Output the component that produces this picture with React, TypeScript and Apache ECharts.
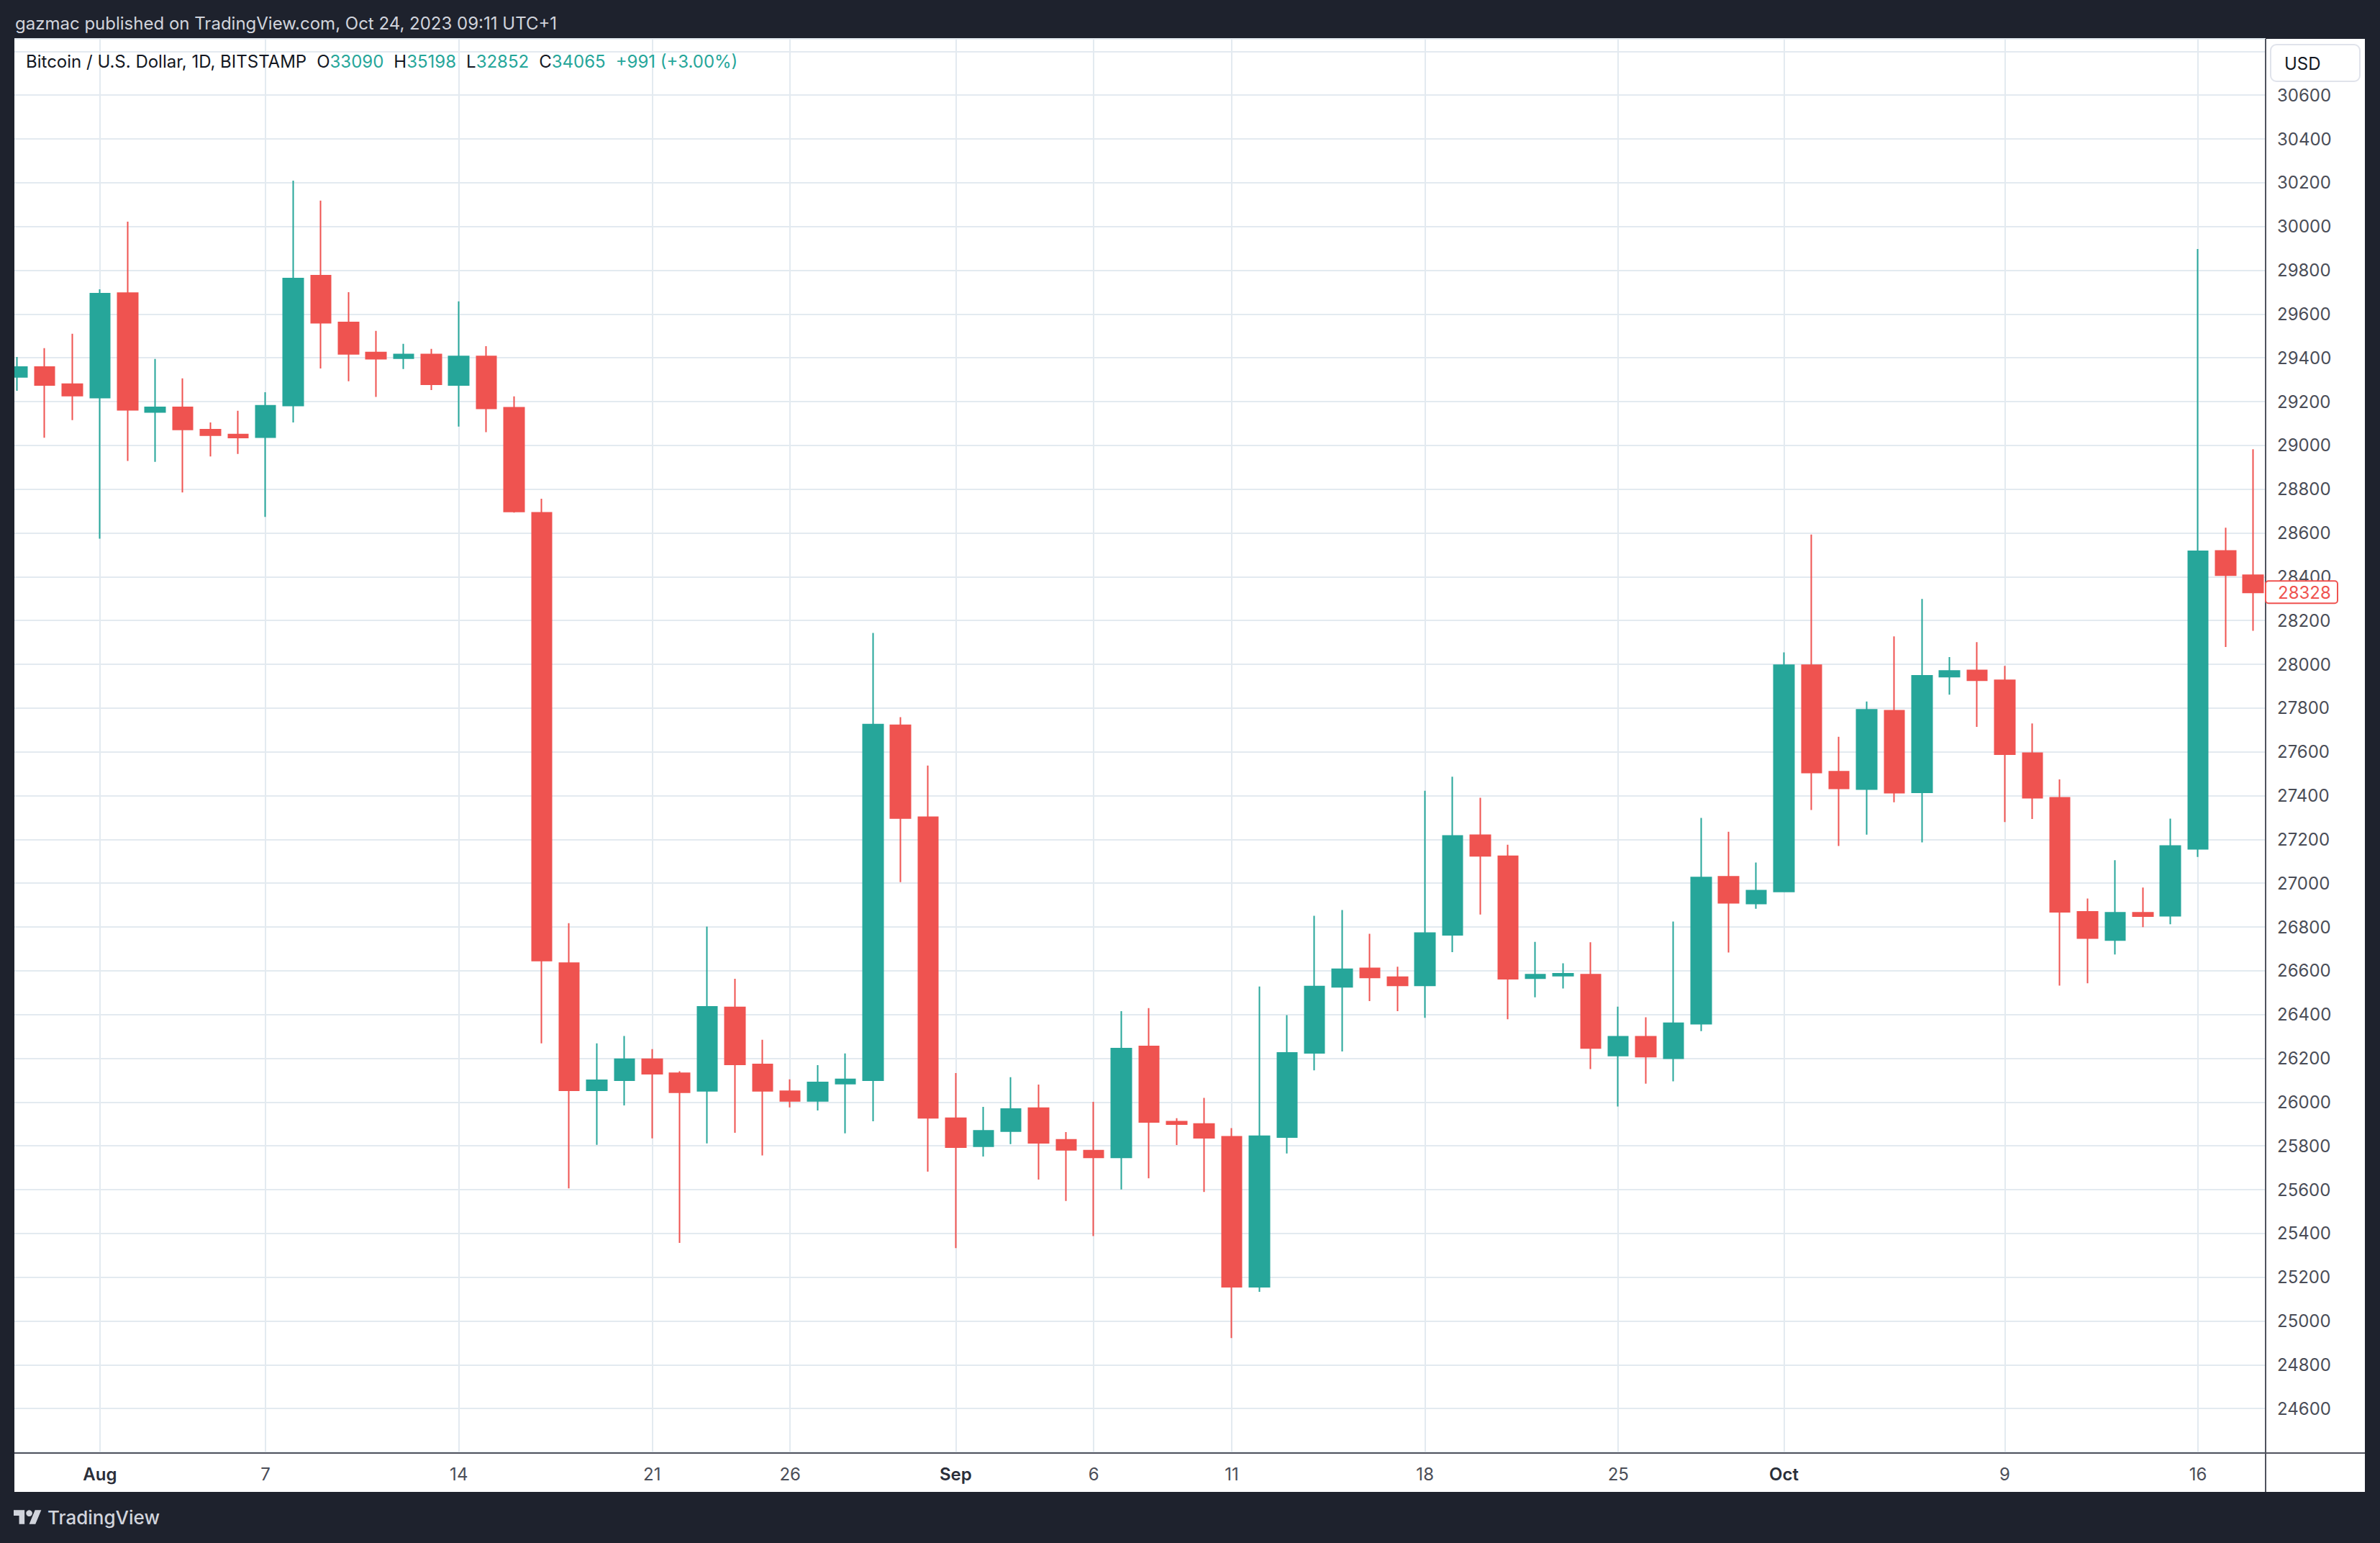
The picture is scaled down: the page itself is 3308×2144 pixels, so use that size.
import React, { useEffect, useRef } from 'react';
import * as echarts from 'echarts';

// ---------- data ----------
const dates = [
  'Jul 29', 'Jul 30', 'Jul 31',
  'Aug 1', 'Aug 2', 'Aug 3', 'Aug 4', 'Aug 5', 'Aug 6', 'Aug 7', 'Aug 8', 'Aug 9', 'Aug 10',
  'Aug 11', 'Aug 12', 'Aug 13', 'Aug 14', 'Aug 15', 'Aug 16', 'Aug 17', 'Aug 18', 'Aug 19', 'Aug 20',
  'Aug 21', 'Aug 22', 'Aug 23', 'Aug 24', 'Aug 25', 'Aug 26', 'Aug 27', 'Aug 28', 'Aug 29', 'Aug 30', 'Aug 31',
  'Sep 1', 'Sep 2', 'Sep 3', 'Sep 4', 'Sep 5', 'Sep 6', 'Sep 7', 'Sep 8', 'Sep 9', 'Sep 10',
  'Sep 11', 'Sep 12', 'Sep 13', 'Sep 14', 'Sep 15', 'Sep 16', 'Sep 17', 'Sep 18', 'Sep 19', 'Sep 20',
  'Sep 21', 'Sep 22', 'Sep 23', 'Sep 24', 'Sep 25', 'Sep 26', 'Sep 27', 'Sep 28', 'Sep 29', 'Sep 30',
  'Oct 1', 'Oct 2', 'Oct 3', 'Oct 4', 'Oct 5', 'Oct 6', 'Oct 7', 'Oct 8', 'Oct 9', 'Oct 10',
  'Oct 11', 'Oct 12', 'Oct 13', 'Oct 14', 'Oct 15', 'Oct 16', 'Oct 17', 'Oct 18',
];

const opens = [
  29313, 29358, 29280, 29218, 29696, 29152, 29174, 29072, 29050, 29037,
  29182, 29775, 29562, 29424, 29398, 29415, 29276, 29406, 29172, 28692,
  26635, 26054, 26100, 26196, 26132, 26051, 26433, 26172, 26050, 26005,
  26084, 26100, 27721, 27301, 25926, 25798, 25867, 25972, 25828, 25778,
  25747, 26254, 25911, 25900, 25842, 25156, 25840, 26225, 26526, 26611,
  26571, 26533, 26764, 27219, 27123, 26566, 26577, 26582, 26212, 26299,
  26200, 26358, 27029, 26907, 26962, 27996, 27509, 27430, 27788, 27415,
  27943, 27972, 27927, 27594, 27390, 26869, 26740, 26865, 26851, 27157,
  28518, 28407,
];

const closes = [
  29358, 29276, 29227, 29693, 29162, 29174, 29073, 29046, 29036, 29181,
  29762, 29560, 29418, 29396, 29415, 29279, 29406, 29169, 28698, 26646,
  26054, 26100, 26196, 26129, 26045, 26435, 26172, 26051, 26005, 26090,
  26104, 27725, 27297, 25928, 25794, 25869, 25968, 25814, 25782, 25747,
  26244, 25909, 25899, 25837, 25156, 25844, 26225, 26528, 26607, 26569,
  26533, 26772, 27216, 27125, 26563, 26582, 26586, 26247, 26299, 26207,
  26360, 27026, 26910, 26966, 27996, 27505, 27433, 27792, 27413, 27947,
  27970, 27927, 27589, 27390, 26869, 26749, 26865, 26849, 27170, 28516,
  28407, 28328,
];

const lows = [
  29249, 29035, 29115, 28574, 28929, 28925, 28785, 28949, 28961, 28673,
  29105, 29351, 29293, 29221, 29349, 29253, 29086, 29060, 28693, 26268,
  25606, 25805, 25985, 25834, 25357, 25811, 25860, 25756, 25976, 25962,
  25857, 25912, 27005, 25682, 25333, 25751, 25808, 25646, 25548, 25388,
  25601, 25652, 25804, 25589, 24922, 25133, 25765, 26145, 26231, 26461,
  26415, 26385, 26685, 26857, 26378, 26479, 26519, 26151, 25980, 26084,
  26095, 26324, 26683, 26883, 26959, 27334, 27170, 27222, 27370, 27186,
  27861, 27714, 27279, 27293, 26532, 26543, 26674, 26799, 26812, 27120,
  28079, 28153,
];

const highs = [
  29404, 29444, 29510, 29713, 30022, 29395, 29306, 29105, 29158, 29243,
  30209, 30118, 29700, 29523, 29464, 29441, 29658, 29453, 29224, 28756,
  26817, 26268, 26302, 26242, 26141, 26802, 26563, 26285, 26104, 26169,
  26222, 28143, 27758, 27537, 26133, 25978, 26114, 26080, 25863, 26001,
  26415, 26429, 25926, 26019, 25881, 26528, 26397, 26851, 26877, 26769,
  26618, 27422, 27486, 27390, 27176, 26732, 26634, 26730, 26436, 26387,
  26825, 27298, 27235, 27094, 28054, 28593, 27669, 27830, 28127, 28298,
  28033, 28101, 27993, 27730, 27474, 26930, 27105, 26980, 27295, 29897,
  28624, 28982,
];

const tickDates = ['Aug 1', 'Aug 7', 'Aug 14', 'Aug 21', 'Aug 26', 'Sep 1', 'Sep 6', 'Sep 11', 'Sep 18', 'Sep 25', 'Oct 1', 'Oct 9', 'Oct 16'];
const tickLabels = ['Aug', '7', '14', '21', '26', 'Sep', '6', '11', '18', '25', 'Oct', '9', '16'];
const monthLabels = ['Aug', 'Sep', 'Oct'];

const priceMin = 24400;
const priceStep = 200;
const labelledLow = 24600;
const labelledHigh = 30600;

const headerText = 'gazmac published on TradingView.com, Oct 24, 2023 09:11 UTC+1';
const symbolTitle = 'Bitcoin / U.S. Dollar, 1D, BITSTAMP';
const ohlcKeys = ['O', 'H', 'L', 'C'];
const ohlcValues = ['33090', '35198', '32852', '34065'];
const changeText = '+991 (+3.00%)';
const currencyText = 'USD';
const brandText = 'TradingView';

// ---------- styles ----------
const UP = '#26a69a';
const DOWN = '#ef5350';
const GRID = '#e3eaf0';
const FRAME = '#1e222d';
const SEP = '#50535e';
const FONT = 'Inter';

const LOGO_D = 'M14 22H7V11H0V4h14v18zM28 22h-8l7.5-18h8L28 22z';
let logoRegistered = false;

export default function App() {
  const ref = useRef<HTMLDivElement>(null);

  useEffect(() => {
    document.body.style.margin = '0';
    if (!logoRegistered) {
      echarts.graphic.registerShape('tvLogo', echarts.graphic.extendPath(LOGO_D, {}) as any);
      logoRegistered = true;
    }
    const chart = echarts.init(ref.current as HTMLDivElement, undefined, { renderer: 'svg' });

    const tickDays = tickDates.map((d) => dates.indexOf(d));
    const data = dates.map((_, i) => [i, opens[i], closes[i], lows[i], highs[i]]);

    const option: any = {
      animation: false,
      backgroundColor: FRAME,
      textStyle: { fontFamily: FONT },
      grid: { left: 20, right: 159, top: 54, bottom: 126, containLabel: false },
      xAxis: {
        type: 'value',
        min: -0.1,
        max: 81.45,
        axisLine: { show: false },
        axisTick: { show: false, customValues: tickDays },
        splitLine: { show: true, lineStyle: { color: GRID, width: 2 } },
        axisLabel: {
          customValues: tickDays,
          margin: 18,
          fontSize: 24,
          fontFamily: FONT,
          color: '#4a4d57',
          formatter: (v: number) => {
            const k = tickDays.indexOf(Math.round(v));
            const t = k >= 0 ? tickLabels[k] : '';
            return monthLabels.includes(t) ? `{m|${t}}` : t;
          },
          rich: {
            m: { fontSize: 24, fontFamily: FONT, fontWeight: 600, color: '#2a2e39' },
          },
        },
      },
      yAxis: {
        type: 'value',
        position: 'right',
        min: priceMin,
        max: 30857,
        interval: priceStep,
        axisLine: { show: false },
        axisTick: { show: false },
        splitLine: { show: true, lineStyle: { color: GRID, width: 2 } },
        axisLabel: {
          margin: 16,
          fontSize: 24,
          fontFamily: FONT,
          color: '#4a4d57',
          showMinLabel: false,
          showMaxLabel: false,
          formatter: (v: number) => (v >= labelledLow && v <= labelledHigh ? String(v) : ''),
        },
      },
      series: [
        {
          type: 'candlestick',
          data,
          barWidth: 28,
          clip: true,
          itemStyle: {
            color: UP,
            color0: DOWN,
            borderColor: UP,
            borderColor0: DOWN,
            borderWidth: 2,
          },
        },
      ],
    };
    chart.setOption(option);

    const lastPrice = closes[closes.length - 1];
    const py = chart.convertToPixel({ yAxisIndex: 0 }, lastPrice) as number;

    const ohlcRich = ohlcKeys
      .map((k, i) => `{d|${k}}{g|${ohlcValues[i]}}`)
      .join('{sp| }');

    chart.setOption({
      graphic: [
        { type: 'rect', z: -10, shape: { x: 20, y: 54, width: 3267, height: 2019 }, style: { fill: '#ffffff' } },
        // left frame strip: hides the part of the first candle that runs past the pane edge
        { type: 'rect', z: 40, shape: { x: 0, y: 54, width: 20, height: 2019 }, style: { fill: FRAME } },
        { type: 'line', z: 50, shape: { x1: 3149, y1: 54, x2: 3149, y2: 2073 }, style: { stroke: SEP, lineWidth: 2 } },
        { type: 'line', z: 50, shape: { x1: 20, y1: 2019, x2: 3287, y2: 2019 }, style: { stroke: SEP, lineWidth: 2 } },
        {
          type: 'text', z: 60, x: 21, y: 32,
          style: { text: headerText, fill: '#d1d4dc', fontSize: 24, fontFamily: FONT, verticalAlign: 'middle', align: 'left' },
        },
        {
          type: 'text', z: 60, x: 36, y: 85,
          style: {
            text: `{d|${symbolTitle}}{sp|  }${ohlcRich}{sp| }{g|${changeText}}`,
            verticalAlign: 'middle', align: 'left',
            rich: {
              d: { fill: '#131722', fontSize: 24, fontFamily: FONT },
              g: { fill: UP, fontSize: 24, fontFamily: FONT },
              sp: { fontSize: 24, fontFamily: FONT, width: 14 },
            },
          },
        },
        { type: 'rect', z: 60, shape: { x: 3156, y: 62, width: 124, height: 51, r: 8 }, style: { fill: '#ffffff', stroke: '#e0e3eb', lineWidth: 2 } },
        {
          type: 'text', z: 61, x: 3175, y: 88,
          style: { text: currencyText, fill: '#131722', fontSize: 24, fontFamily: FONT, verticalAlign: 'middle', align: 'left' },
        },
        { type: 'rect', z: 70, shape: { x: 3149, y: py - 16, width: 100, height: 31, r: 4 }, style: { fill: '#ffffff', stroke: DOWN, lineWidth: 2 } },
        {
          type: 'text', z: 71, x: 3166, y: py,
          style: { text: String(lastPrice), fill: DOWN, fontSize: 24, fontFamily: FONT, verticalAlign: 'middle', align: 'left' },
        },
        { type: 'tvLogo', z: 60, x: 19, y: 2094, scaleX: 1.08, scaleY: 1.08, style: { fill: '#d1d4dc' } },
        { type: 'circle', z: 60, shape: { cx: 19 + 20 * 1.08, cy: 2094 + 8 * 1.08, r: 4 * 1.08 }, style: { fill: '#d1d4dc' } },
        {
          type: 'text', z: 60, x: 66, y: 2108,
          style: { text: brandText, fill: '#d1d4dc', fontSize: 26, fontFamily: FONT, fontWeight: 500, verticalAlign: 'middle', align: 'left' },
        },
      ],
    });

    return () => {
      chart.dispose();
    };
  }, []);

  return (
    <div
      ref={ref}
      style={{ position: 'absolute', left: 0, top: 0, width: 3308, height: 2144 }}
    />
  );
}
